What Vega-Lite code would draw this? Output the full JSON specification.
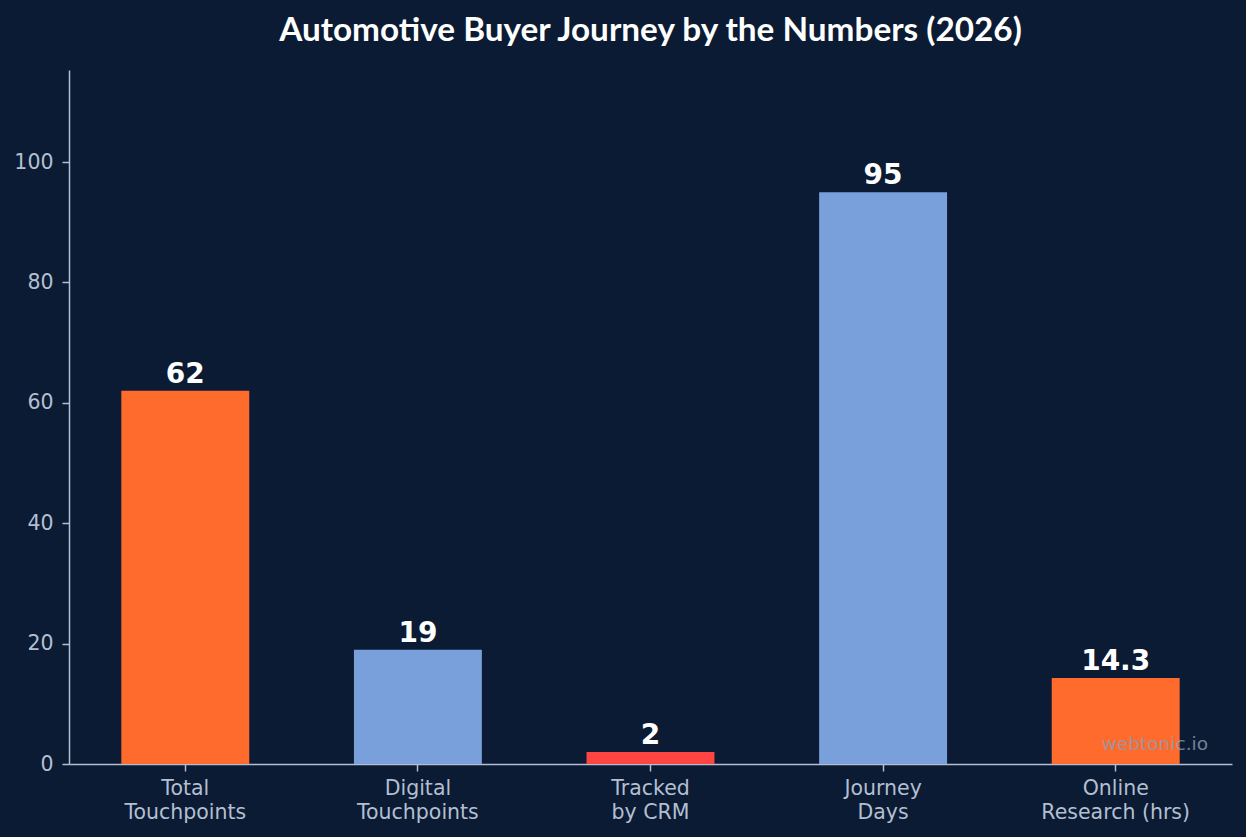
{
  "$schema": "https://vega.github.io/schema/vega-lite/v6.json",
  "width": 1163,
  "height": 694,
  "autosize": {"type": "none"},
  "padding": {"left": 69, "top": 70, "right": 14, "bottom": 73},
  "background": "#0b1b33",
  "title": {
    "text": "Automotive Buyer Journey by the Numbers (2026)",
    "font": "Lato",
    "fontWeight": "bold",
    "fontSize": 33.3,
    "color": "#ffffff",
    "anchor": "middle",
    "offset": 22
  },
  "config": {
    "view": {"stroke": null},
    "axis": {
      "labelFont": "DejaVu Sans",
      "labelFontSize": 20.5,
      "labelColor": "#b3bfd1",
      "domainColor": "#b3bfd1",
      "tickColor": "#b3bfd1",
      "domainWidth": 1.5,
      "tickWidth": 1.5,
      "tickSize": 7,
      "grid": false,
      "title": null
    }
  },
  "data": {
    "values": [
      {"label": "Total\nTouchpoints", "value": 62},
      {"label": "Digital\nTouchpoints", "value": 19},
      {"label": "Tracked\nby CRM", "value": 2},
      {"label": "Journey\nDays", "value": 95},
      {"label": "Online\nResearch (hrs)", "value": 14.3}
    ]
  },
  "encoding": {
    "x": {
      "field": "label",
      "type": "nominal",
      "sort": null,
      "scale": {"paddingInner": 0.45, "paddingOuter": 0.225},
      "axis": {
        "labelAngle": 0,
        "labelPadding": 7,
        "labelLineHeight": 24,
        "labelExpr": "split(datum.label, '\\n')"
      }
    },
    "y": {
      "field": "value",
      "type": "quantitative",
      "scale": {"domain": [0, 115.3], "nice": false},
      "axis": {"values": [0, 20, 40, 60, 80, 100], "labelPadding": 9}
    }
  },
  "layer": [
    {
      "mark": {"type": "bar"},
      "encoding": {
        "color": {
          "field": "label",
          "type": "nominal",
          "legend": null,
          "scale": {
            "domain": ["Total\nTouchpoints", "Digital\nTouchpoints", "Tracked\nby CRM", "Journey\nDays", "Online\nResearch (hrs)"],
            "range": ["#ff6b2c", "#7aa0dc", "#ff4444", "#7aa0dc", "#ff6b2c"]
          }
        }
      }
    },
    {
      "mark": {
        "type": "text",
        "font": "DejaVu Sans",
        "fontWeight": "bold",
        "fontSize": 28,
        "color": "#ffffff",
        "baseline": "bottom",
        "dy": -2
      },
      "encoding": {
        "text": {"field": "value", "type": "quantitative", "format": ".1~f"}
      }
    },
    {
      "data": {"values": [{"mark": "webtonic.io"}]},
      "mark": {
        "type": "text",
        "font": "DejaVu Sans",
        "fontSize": 18.5,
        "color": "#8f9cb0",
        "opacity": 0.8,
        "align": "right",
        "baseline": "bottom",
        "dx": -24,
        "dy": -10
      },
      "encoding": {
        "x": {"value": "width"},
        "y": {"value": "height"},
        "text": {"field": "mark"}
      }
    }
  ]
}
